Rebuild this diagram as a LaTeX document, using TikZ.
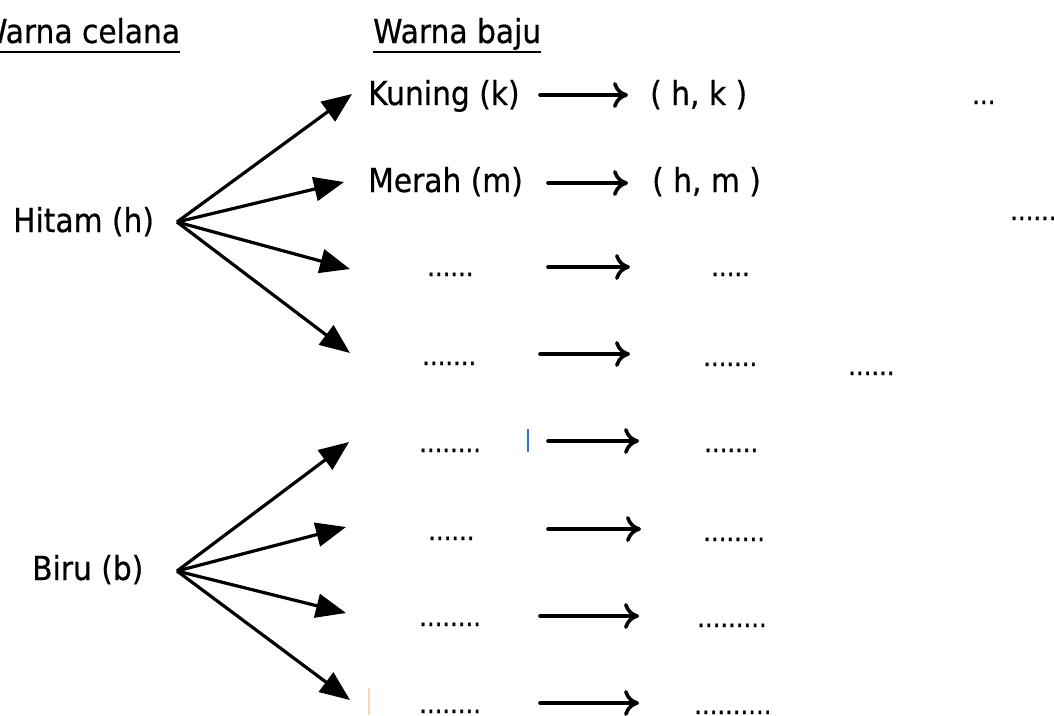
\documentclass[tikz,border=0pt]{standalone}
\usepackage{fontspec}
\setmainfont{DejaVu Sans}[FakeStretch=0.9,FakeBold=0.6]
\usetikzlibrary{arrows.meta}
\definecolor{artblue}{RGB}{40,120,220}
\definecolor{artorange}{RGB}{245,215,170}
\tikzset{
  lbl/.style={anchor=base west, inner sep=0pt, font=\fontsize{33}{36}\selectfont},
  dts/.style={anchor=base west, inner sep=0pt, font=\fontsize{27}{30}\selectfont},
  branch/.style={line width=3.2pt, -{Triangle[length=30pt,width=24pt]}},
  longarr/.style={line width=3.6pt, line cap=round, -{Computer Modern Rightarrow[length=15pt,width=26pt,line width=3.6pt]}},
  uline/.style={line width=2.6pt},
}
\begin{document}
\begin{tikzpicture}[x=1pt,y=-1pt]
\useasboundingbox (0,0) rectangle (1054,715);
% headings
\node[lbl] (wc) at (-22,43) {Warna celana};
\node[lbl] (wb) at (373,43) {Warna baju};
\draw[uline] (0,52) -- (wc.base east |- 0,52);
\draw[uline] (wb.base west |- 0,52) -- (wb.base east |- 0,52);
% left nodes
\node[lbl] (hitam) at (13,232) {Hitam (h)};
\node[lbl] (biru) at (32,580) {Biru (b)};
\coordinate (ho) at (177,222);
\coordinate (bo) at (177,571);
% row 1-2 labels
\node[lbl] (kuning) at (368,105) {Kuning (k)};
\node[lbl] (merah) at (368,192) {Merah (m)};
\node[lbl] (hk) at (650,105) {( h, k )};
\node[lbl] (hm) at (652,192) {( h, m )};
% branch tips
\coordinate (t1) at (352,94);
\coordinate (t2) at (344,182);
\coordinate (t3) at (350,269);
\coordinate (t4) at (350,353);
\coordinate (t5) at (349,442);
\coordinate (t6) at (346,527);
\coordinate (t7) at (346,613);
\coordinate (t8) at (350,700);
\foreach \t in {t1,t2,t3,t4} \draw[branch] (ho) -- (\t);
\foreach \t in {t5,t6,t7,t8} \draw[branch] (bo) -- (\t);
% dots
\node[dts] (l3) at (427,276) {......};
\node[dts] (r3) at (711,276) {.....};
\node[dts] (l4) at (422,365) {.......};
\node[dts] (r4) at (703,366) {.......};
\node[dts] (l5) at (419,452) {........};
\node[dts] (r5) at (704,452) {.......};
\node[dts] (l6) at (428,540) {......};
\node[dts] (r6) at (703,541) {........};
\node[dts] (l7) at (419,626) {........};
\node[dts] (r7) at (697,627) {.........};
\node[dts] (l8) at (419,713) {........};
\node[dts] (r8) at (694,714) {..........};
\node[dts] (x1) at (972,104) {...};
\node[dts] (x2) at (1010,220) {......};
\node[dts] (x3) at (848,375) {......};
% long arrows
\coordinate (a1s) at (540,95);  \coordinate (a1e) at (628,95);
\coordinate (a2s) at (548,183); \coordinate (a2e) at (628,183);
\coordinate (a3s) at (548,267); \coordinate (a3e) at (630,267);
\coordinate (a4s) at (540,354); \coordinate (a4e) at (630,354);
\coordinate (a5s) at (548,441); \coordinate (a5e) at (639,441);
\coordinate (a6s) at (548,529); \coordinate (a6e) at (641,529);
\coordinate (a7s) at (540,616); \coordinate (a7e) at (639,616);
\coordinate (a8s) at (540,703); \coordinate (a8e) at (639,703);
\foreach \i in {1,...,8} \draw[longarr] (a\i s) -- (a\i e);
% small artefacts
\draw[artblue, line width=1.3pt] (528,429) -- (528,452);
\draw[artorange, line width=1.3pt] (369,688) -- (369,715);
\end{tikzpicture}
\end{document}
